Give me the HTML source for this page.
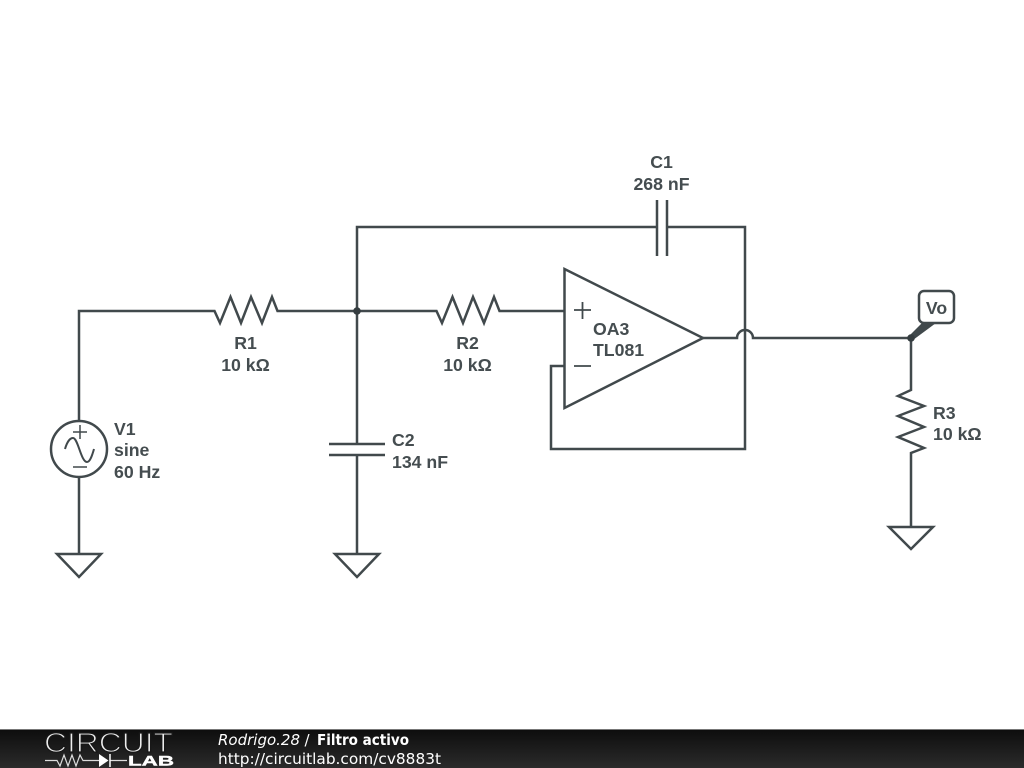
<!DOCTYPE html>
<html>
<head>
<meta charset="utf-8">
<style>
html,body{margin:0;padding:0;background:#fff;width:1024px;height:768px;overflow:hidden}
svg{display:block}
.l{font-family:"Liberation Sans",sans-serif;font-weight:bold;font-size:17.7px;fill:#454d50}
.f{font-family:"DejaVu Sans",sans-serif;font-size:15px;fill:#fff}
</style>
</head>
<body>
<svg width="1024" height="768" viewBox="0 0 1024 768" xmlns="http://www.w3.org/2000/svg">
<defs>
<linearGradient id="bar" x1="0" y1="0" x2="0" y2="1">
<stop offset="0" stop-color="#0d0d0d"/>
<stop offset="1" stop-color="#2b2b2b"/>
</linearGradient>
</defs>
<g fill="none" stroke="#41494c" stroke-width="2.5" stroke-linejoin="miter" stroke-linecap="butt">
<!-- wires -->
<path d="M79 421V311H214.5L220 323L230.5 297L241 323L251 297L262 323L272 297L277.5 311H436.5L442 323L452.5 297L463 323L473 297L484 323L494 297L499.5 311H564.5"/>
<path d="M357 311V227H657M667 227H745V449H551V366H564.5"/>
<path d="M357 311V444M357 455V554"/>
<path d="M79 477V554"/>
<!-- C1 -->
<path d="M657 200V256M667 200V256"/>
<!-- C2 -->
<path d="M329 444H385M329 455H385"/>
<!-- grounds -->
<path d="M57 554H101L79 577Z"/>
<path d="M335 554H379L357 577Z"/>
<path d="M889 527H933L911 549Z"/>
<!-- V1 -->
<circle cx="79" cy="449" r="28"/>
<path d="M73 432H87M80 425V439M73 467H87" stroke-width="1.5"/>
<path d="M65 449C67 442 70 438 73 438C78 438 81 462 87 462C90 462 92 456 94 449" stroke-width="2"/>
<!-- opamp -->
<path d="M564.5 269V408L703 338Z"/>
<path d="M574 310H591M582.5 302V319M574 366H591" stroke-width="1.800"/>
<!-- output with jump -->
<path d="M703 338H737A8 8 0 0 1 753 338H911"/>
<!-- R3 -->
<path d="M911 338V390L898 396L924 406L898 416L924 427L898 437L924 448L911 453V527"/>
<!-- Vo -->
<rect x="919" y="291" width="35" height="32" rx="5" ry="5"/>
</g>
<path d="M909 336L922 323H936L913 340Z" fill="#41494c"/>
<circle cx="357" cy="311" r="3.8" fill="#353d40"/>
<circle cx="911" cy="338" r="3.8" fill="#353d40"/>
<!-- labels -->
<text class="l" x="245.500" y="349" text-anchor="middle">R1</text>
<text class="l" x="245.500" y="371" text-anchor="middle">10 kΩ</text>
<text class="l" x="467.500" y="349" text-anchor="middle">R2</text>
<text class="l" x="467.500" y="371" text-anchor="middle">10 kΩ</text>
<text class="l" x="661.500" y="168" text-anchor="middle">C1</text>
<text class="l" x="661.500" y="190" text-anchor="middle">268 nF</text>
<text class="l" x="392" y="446">C2</text>
<text class="l" x="392" y="468">134 nF</text>
<text class="l" x="114" y="435">V1</text>
<text class="l" x="114" y="456">sine</text>
<text class="l" x="114" y="478">60 Hz</text>
<text class="l" x="593" y="335">OA3</text>
<text class="l" x="593" y="356">TL081</text>
<text class="l" x="933" y="419">R3</text>
<text class="l" x="933" y="440">10 kΩ</text>
<text class="l" x="936.500" y="314" text-anchor="middle">Vo</text>
<!-- footer -->
<rect x="0" y="729" width="1024" height="39" fill="url(#bar)"/>
<rect x="0" y="729" width="1024" height="1" fill="#777"/>
<text x="44" y="752" textLength="129" lengthAdjust="spacingAndGlyphs" style="font-family:'Liberation Sans',sans-serif;font-size:27.5px;fill:#eee;stroke:#181818;stroke-width:1.200;paint-order:fill stroke">CIRCUIT</text>
<path d="M45 760.500H57L60 766L64 755L68 766L72 755L76 766L80 755L83 760.500H99M110 760.500H127" fill="none" stroke="#ddd" stroke-width="1.200"/>
<path d="M99 754V767L108.500 760.500Z" fill="#fff"/>
<path d="M110 754V767" stroke="#fff" stroke-width="1.500"/>
<text x="128" y="765.500" textLength="46" lengthAdjust="spacingAndGlyphs" style="font-family:'Liberation Sans',sans-serif;font-weight:bold;font-size:14px;fill:#fff;stroke:#fff;stroke-width:.4">LAB</text>
<text class="f" x="218" y="745" font-style="italic">Rodrigo.28</text>
<text class="f" x="304.500" y="745">/</text>
<text class="f" x="317" y="745" font-weight="bold" textLength="92" lengthAdjust="spacingAndGlyphs">Filtro activo</text>
<text class="f" x="218" y="764" textLength="223" lengthAdjust="spacingAndGlyphs">http://circuitlab.com/cv8883t</text>
</svg>
</body>
</html>
